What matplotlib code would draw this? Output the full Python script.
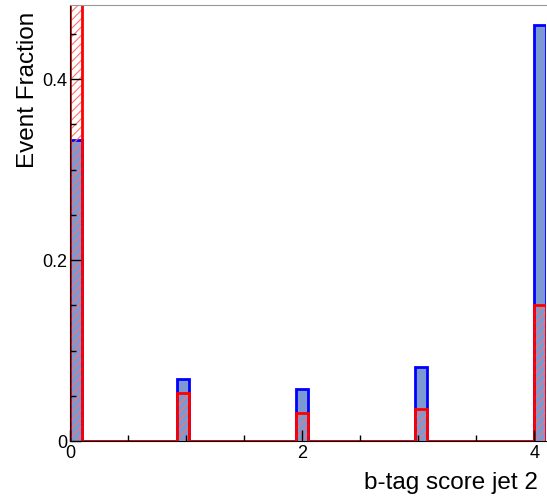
import numpy as np
import matplotlib
matplotlib.use("Agg")
import matplotlib.pyplot as plt
from matplotlib.ticker import MultipleLocator

plt.rcParams["font.family"] = "Liberation Sans"
plt.rcParams["hatch.linewidth"] = 0.8

# 40 bins between 0 and 4.1
edges = np.linspace(0, 4.1, 41)
filled_bins = [0, 9, 19, 29, 39]
blue_vals = [0.333, 0.0685, 0.058, 0.082, 0.460]
red_vals = [0.731, 0.053, 0.031, 0.035, 0.150]

blue = np.zeros(40)
red = np.zeros(40)
blue[filled_bins] = blue_vals
red[filled_bins] = red_vals

fig = plt.figure(figsize=(5.47, 4.98), dpi=100)
ax = fig.add_axes([70 / 547, 1 - 441 / 498, 476 / 547, 436 / 498])

ax.stairs(blue, edges, fill=True, color="#7d99d1", lw=0)
ax.stairs(blue, edges, baseline=0, color="#0000ff", lw=2)
ax.stairs(red, edges, fill=True, facecolor="none", edgecolor="#ff7070", hatch="////", lw=0)
ax.stairs(red, edges, baseline=0, color="#ff0000", lw=2)

ax.set_xlim(0, 4.1)
ax.set_ylim(0, 0.482)

ax.xaxis.set_major_locator(MultipleLocator(2))
ax.xaxis.set_minor_locator(MultipleLocator(0.5))
ax.yaxis.set_major_locator(MultipleLocator(0.2))
ax.yaxis.set_minor_locator(MultipleLocator(0.05))
ax.tick_params(which="both", direction="in", top=False, right=False, labelsize=13)
ax.tick_params(which="major", length=8, width=1)
ax.tick_params(which="minor", length=4, width=1)
ax.xaxis.set_major_formatter(plt.FuncFormatter(lambda v, p: f"{v:g}"))
ax.yaxis.set_major_formatter(plt.FuncFormatter(lambda v, p: f"{v:g}"))
ax.tick_params(axis="x", pad=3)
ax.tick_params(axis="y", pad=2)

ax.spines["top"].set_color("#999999")
ax.spines["right"].set_visible(False)

ax.set_xlabel("b-tag score jet 2", fontsize=17.5, loc="right")
ax.xaxis.set_label_coords(0.983, -0.072)
ax.set_ylabel("Event Fraction", fontsize=17.5, loc="top")
ax.yaxis.set_label_coords(-0.066, 0.985)

fig.savefig("out.png", dpi=100)
